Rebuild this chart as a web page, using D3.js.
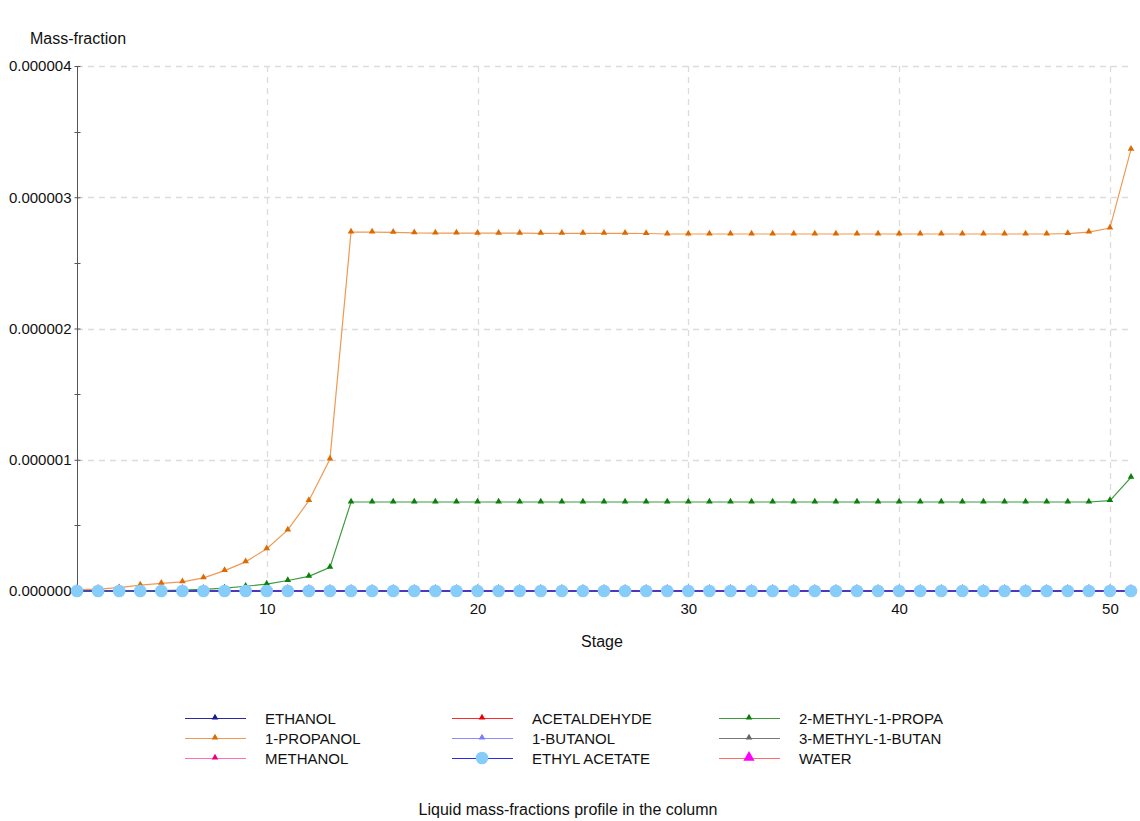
<!DOCTYPE html>
<html>
<head>
<meta charset="utf-8">
<script src="https://cdn.jsdelivr.net/npm/d3@7"></script>
<style>
  html, body { margin: 0; padding: 0; background: #fff; }
  svg { display: block; font-family: "Liberation Sans", Arial, sans-serif; }
</style>
</head>
<body>
<svg id="chart" width="1140" height="821"></svg>
<script>
// Column stages 1..51
const stages = d3.range(1, 52);

// Liquid mass fractions per stage
const propanol1 = [
  1.0e-8, 1.5e-8, 2.5e-8, 4.5e-8, 5.8e-8, 7.0e-8, 1.0e-7, 1.55e-7, 2.22e-7, 3.22e-7,
  4.65e-7, 6.88e-7, 1.006e-6, 2.735e-6, 2.735e-6, 2.733e-6, 2.728e-6, 2.727e-6, 2.727e-6, 2.726e-6,
  2.726e-6, 2.726e-6, 2.725e-6, 2.725e-6, 2.725e-6, 2.725e-6, 2.725e-6, 2.724e-6, 2.72e-6, 2.72e-6,
  2.72e-6, 2.72e-6, 2.72e-6, 2.72e-6, 2.72e-6, 2.72e-6, 2.72e-6, 2.72e-6, 2.72e-6, 2.72e-6,
  2.72e-6, 2.72e-6, 2.72e-6, 2.72e-6, 2.72e-6, 2.72e-6, 2.72e-6, 2.723e-6, 2.735e-6, 2.765e-6,
  3.365e-6
];
const methylPropanol = [
  0, 0, 0, 0, 3e-9, 7e-9, 1.3e-8, 2.2e-8, 3.6e-8, 5.2e-8,
  8.0e-8, 1.12e-7, 1.8e-7, 6.78e-7, 6.78e-7, 6.78e-7, 6.78e-7, 6.78e-7, 6.78e-7, 6.78e-7,
  6.78e-7, 6.78e-7, 6.78e-7, 6.78e-7, 6.78e-7, 6.78e-7, 6.78e-7, 6.78e-7, 6.78e-7, 6.78e-7,
  6.78e-7, 6.78e-7, 6.78e-7, 6.78e-7, 6.78e-7, 6.78e-7, 6.78e-7, 6.78e-7, 6.78e-7, 6.78e-7,
  6.78e-7, 6.78e-7, 6.78e-7, 6.78e-7, 6.78e-7, 6.78e-7, 6.78e-7, 6.78e-7, 6.78e-7, 6.88e-7,
  8.66e-7
];
const ethanol      = stages.map(() => 0);
const acetaldehyde = stages.map(() => 0);
const butanol1     = stages.map(() => 0);
const methylButanol= stages.map(() => 0);
const methanol     = stages.map(() => 0);
const water        = stages.map(() => 0);
const ethylAcetate = stages.map(() => 0);

const xTicks = [10, 20, 30, 40, 50];
const yTicks = [0, 1e-6, 2e-6, 3e-6, 4e-6];
const yMinorTicks = [0.5e-6, 1.5e-6, 2.5e-6, 3.5e-6];

// Series styling (legend order: row-major across 3 columns)
const series = [
  { name: "ETHANOL",          values: ethanol,        line: "#2a2aa0", mark: "#1a1a90", shape: "tri", size: 6.5 },
  { name: "ACETALDEHYDE",     values: acetaldehyde,   line: "#ff2a2a", mark: "#ee0000", shape: "tri", size: 6.5 },
  { name: "2-METHYL-1-PROPA", values: methylPropanol, line: "#3c9a3c", mark: "#0a7f0a", shape: "tri", size: 6.5 },
  { name: "1-PROPANOL",       values: propanol1,      line: "#ee9a55", mark: "#dc6a00", shape: "tri", size: 6.5 },
  { name: "1-BUTANOL",        values: butanol1,       line: "#8c8cff", mark: "#7a7aff", shape: "tri", size: 6.5 },
  { name: "3-METHYL-1-BUTAN", values: methylButanol,  line: "#777777", mark: "#666666", shape: "tri", size: 6.5 },
  { name: "METHANOL",         values: methanol,       line: "#ff70b8", mark: "#e8007c", shape: "tri", size: 6.5 },
  { name: "ETHYL ACETATE",    values: ethylAcetate,   line: "#2a2ae6", mark: "#87cdf9", shape: "circle", size: 6.3 },
  { name: "WATER",            values: water,          line: "#ff6a6a", mark: "#ff00ff", shape: "tri", size: 11 }
];

const svg = d3.select("#chart");
const x = d3.scaleLinear().domain([1, 51]).range([77, 1131]);
const y = d3.scaleLinear().domain([0, 4e-6]).range([591, 66]);
const fmt = d3.format(".6f");

// Grid
const grid = svg.append("g").attr("stroke", "#dcdcdc").attr("stroke-width", 1.3)
  .attr("stroke-dasharray", "6,5");
grid.selectAll("line.v").data(xTicks).join("line")
  .attr("x1", d => Math.round(x(d)) + 0.5).attr("x2", d => Math.round(x(d)) + 0.5)
  .attr("y1", y(4e-6)).attr("y2", y(0));
grid.selectAll("line.h").data(yTicks.filter(d => d > 0)).join("line")
  .attr("x1", x(1)).attr("x2", x(51))
  .attr("y1", d => Math.round(y(d)) + 0.5).attr("y2", d => Math.round(y(d)) + 0.5);

// Y axis
const yAxis = d3.axisLeft(y).tickValues(yTicks).tickFormat(fmt).tickSize(3).tickPadding(3);
const yg = svg.append("g").attr("transform", "translate(77.5,0)").call(yAxis);
yg.select(".domain").attr("stroke", "#555").attr("d", `M0,${y(4e-6)}V${y(0)}`);
yg.selectAll(".tick line").attr("stroke", "#555").attr("x1", 3).attr("x2", -3);
yg.selectAll(".tick text").attr("font-size", 15).attr("fill", "#111")
  .attr("font-family", "Liberation Sans, Arial, sans-serif");
yg.selectAll(".minor").data(yMinorTicks).join("line").attr("class", "minor")
  .attr("stroke", "#555").attr("x1", -3).attr("x2", 3)
  .attr("y1", d => Math.round(y(d)) + 0.5).attr("y2", d => Math.round(y(d)) + 0.5);

// X axis labels (no axis line)
const xAxis = d3.axisBottom(x).tickValues(xTicks).tickSize(0).tickPadding(12);
const xg = svg.append("g").attr("transform", `translate(0,${y(0)})`).call(xAxis);
xg.select(".domain").remove();
xg.selectAll(".tick text").attr("font-size", 15).attr("fill", "#111")
  .attr("font-family", "Liberation Sans, Arial, sans-serif");

// Axis titles and caption
svg.append("text").attr("x", 30).attr("y", 44).attr("font-size", 16).attr("fill", "#111")
  .text("Mass-fraction");
svg.append("text").attr("x", 602).attr("y", 647).attr("text-anchor", "middle")
  .attr("font-size", 16).attr("fill", "#111").text("Stage");
svg.append("text").attr("x", 568).attr("y", 815).attr("text-anchor", "middle")
  .attr("font-size", 16).attr("fill", "#111").text("Liquid mass-fractions profile in the column");

// Marker shapes
const triPath = s => d3.symbol(d3.symbolTriangle, s * s * 0.45)();
function drawMarker(g, s, cx, cy) {
  if (s.shape === "circle") {
    g.append("circle").attr("cx", cx).attr("cy", cy).attr("r", s.size).attr("fill", s.mark);
  } else {
    g.append("path").attr("d", triPath(s.size))
      .attr("transform", `translate(${cx},${cy - 0.5})`).attr("fill", s.mark);
  }
}

// Data: lines first, then markers; the ethyl acetate layer sits on top
const lineGen = d3.line().x((d, i) => x(stages[i])).y(d => y(d));
const drawOrder = ["WATER", "METHANOL", "3-METHYL-1-BUTAN", "1-BUTANOL", "ACETALDEHYDE",
  "ETHANOL", "2-METHYL-1-PROPA", "1-PROPANOL", "ETHYL ACETATE"];
const plot = svg.append("g");
drawOrder.forEach(n => {
  const s = series.find(d => d.name === n);
  const g = plot.append("g");
  g.append("path").datum(s.values).attr("d", lineGen)
    .attr("fill", "none").attr("stroke", s.line).attr("stroke-width", 1.2);
  s.values.forEach((v, i) => drawMarker(g, s, x(stages[i]), y(v)));
});

// Legend
const legCols = [185, 452, 719];
const legRows = [718, 738, 758];
const legend = svg.append("g");
series.forEach((s, i) => {
  const cx = legCols[i % 3], cy = legRows[Math.floor(i / 3)];
  const g = legend.append("g");
  g.append("line").attr("x1", cx).attr("x2", cx + 61).attr("y1", cy + 0.5).attr("y2", cy + 0.5)
    .attr("stroke", s.line).attr("stroke-width", 1.2);
  drawMarker(g, s, cx + 30, cy);
  g.append("text").attr("x", cx + 80).attr("y", cy + 5.5).attr("font-size", 15)
    .attr("fill", "#111").text(s.name);
});
</script>
</body>
</html>
